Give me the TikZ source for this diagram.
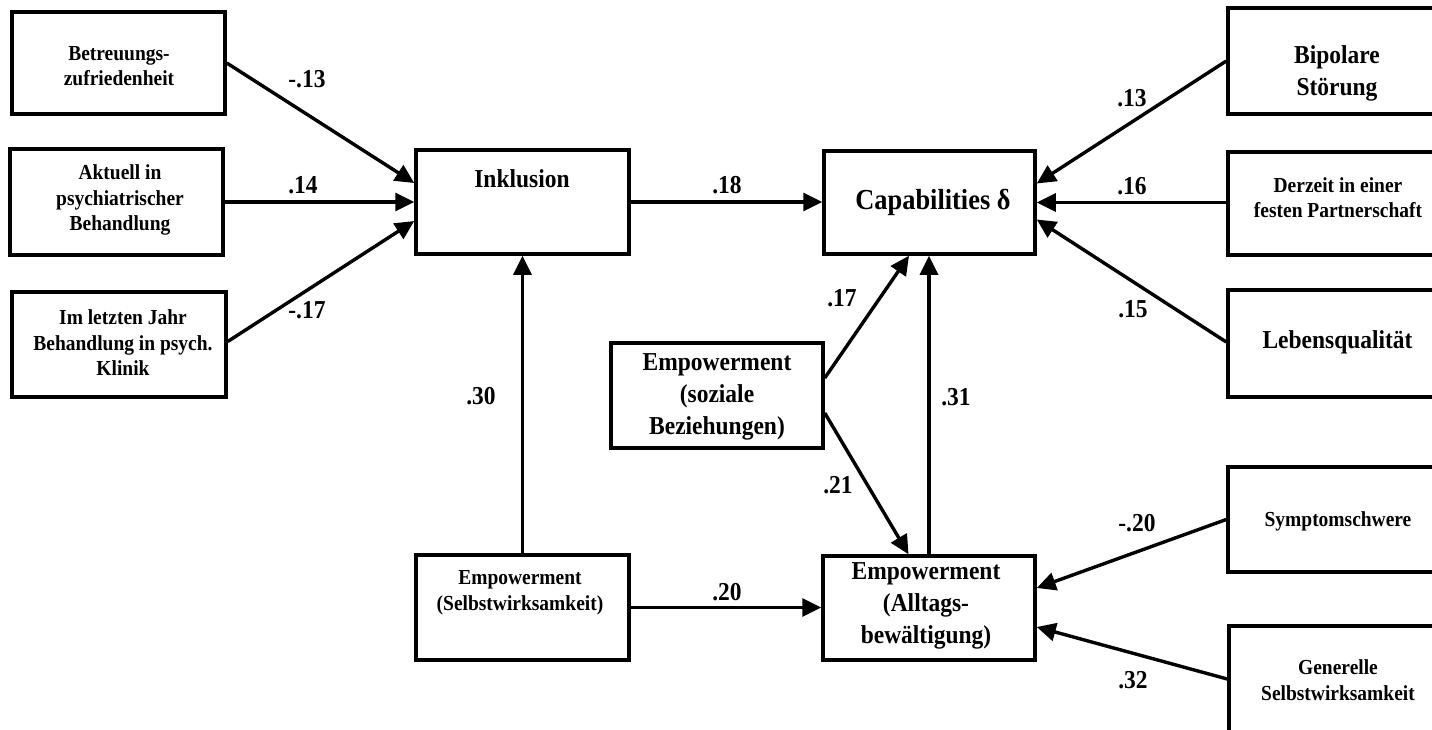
\documentclass[tikz,border=0pt]{standalone}
\usepackage{fontspec}
\setmainfont{Liberation Serif}
\newfontfamily\cf[FakeStretch=0.91]{Liberation Serif}
\usetikzlibrary{arrows.meta}
\tikzset{
  box/.style={draw, line width=3.5pt, inner sep=0pt},
  small/.style={font=\cf\fontsize{21.4}{25.5}\selectfont\bfseries, align=center, inner sep=0pt},
  big/.style={font=\cf\fontsize{25.8}{32}\selectfont\bfseries, align=center, inner sep=0pt},
  huge/.style={font=\cf\fontsize{29}{32}\selectfont\bfseries, align=center, inner sep=0pt},
  coef/.style={font=\cf\fontsize{25.8}{28}\selectfont\bfseries, inner sep=0pt},
  arr/.style={line width=3.4pt, -{Triangle[length=19pt,width=18pt]}},
}
\begin{document}
\begin{tikzpicture}[x=1pt, y=-1pt]
\useasboundingbox (0,0) rectangle (1432,730);
\clip (0,0) rectangle (1432,730);
\fill[white] (0,0) rectangle (1432,730);

% boxes
\node[box, minimum width=213pt, minimum height=102pt] (betr) at (118.5,63) {};
\node[box, minimum width=213pt, minimum height=106pt] (aktu) at (116.5,202) {};
\node[box, minimum width=214pt, minimum height=105pt] (letzt) at (119,344.5) {};
\node[box, minimum width=213pt, minimum height=104pt] (inkl) at (522.5,202) {};
\node[box, minimum width=211pt, minimum height=103pt] (capa) at (929.5,202.5) {};
\node[box, minimum width=217pt, minimum height=106pt] (bipo) at (1336.5,61) {};
\node[box, minimum width=217pt, minimum height=103pt] (derz) at (1336.5,203.5) {};
\node[box, minimum width=217pt, minimum height=107pt] (lebe) at (1336.5,343.5) {};
\node[box, minimum width=212pt, minimum height=105pt] (emps) at (717,395.5) {};
\node[box, minimum width=213pt, minimum height=105pt] (selb) at (522.5,607.5) {};
\node[box, minimum width=212pt, minimum height=104pt] (allt) at (929,608) {};
\node[box, minimum width=217pt, minimum height=105pt] (symp) at (1336.5,519.5) {};
\node[box, minimum width=216pt, minimum height=114pt] (gene) at (1337,683) {};

% box texts
\node[small] (betr-t) at (119,66) {Betreuungs-\\zufriedenheit};
\node[small] (aktu-t) at (120,200) {Aktuell in\\psychiatrischer\\Behandlung};
\node[small] (letzt-t) at (123,343) {Im letzten Jahr\\Behandlung in psych.\\Klinik};
\node[big] (inkl-t) at (522,179) {Inklusion};
\node[huge] (capa-t) at (933,202) {Capabilities δ};
\node[big] (bipo-t) at (1337,73) {Bipolare\\Störung};
\node[small] (derz-t) at (1338,197.5) {Derzeit in einer\\festen Partnerschaft};
\node[big] (lebe-t) at (1337.5,342) {Lebensqualität};
\node[big] (emps-t) at (717,397) {Empowerment\\(soziale\\Beziehungen)};
\node[small] (selb-t) at (520,593) {Empowerment\\(Selbstwirksamkeit)};
\node[big] (allt-t) at (926,605.5) {Empowerment\\(Alltags-\\bewältigung)};
\node[small] (symp-t) at (1338,521.5) {Symptomschwere};
\node[small] (gene-t) at (1338,680) {Generelle\\Selbstwirksamkeit};

% connectors
\draw[arr] (betr.east) -- ([yshift=19pt]inkl.west);
\draw[arr] (aktu.east) -- (inkl.west);
\draw[arr] ([yshift=3pt]letzt.east) -- ([yshift=-19pt]inkl.west);
\draw[arr] (inkl.east) -- (inkl.east -| capa.west);
\draw[arr] (bipo.west) -- ([yshift=19pt]capa.east);
\draw[arr] (capa.east -| derz.west) -- (capa.east);
\draw[arr] ([yshift=1.5pt]lebe.west) -- ([yshift=-17pt]capa.east);
\draw[arr] ([yshift=17.5pt]emps.east) -- ([xshift=-20.5pt]capa.south);
\draw[arr] ([yshift=-17.5pt]emps.east) -- ([xshift=-20.5pt]allt.north);
\draw[arr] (allt.north) -- (allt.north |- capa.south);
\draw[arr] (selb.north) -- (inkl.south);
\draw[arr] (selb.east) -- (selb.east -| allt.west);
\draw[arr] (symp.west) -- ([yshift=20pt]allt.east);
\draw[arr] ([yshift=4pt]gene.west) -- ([yshift=-19pt]allt.east);

% coefficients
\node[coef] (c1) at (307,79) {-.13};
\node[coef] (c2) at (303,185) {.14};
\node[coef] (c3) at (307,310) {-.17};
\node[coef] (c4) at (727,185) {.18};
\node[coef] (c5) at (1132,98) {.13};
\node[coef] (c6) at (1132,186) {.16};
\node[coef] (c7) at (1133,309) {.15};
\node[coef] (c8) at (842,298) {.17};
\node[coef] (c9) at (481,396) {.30};
\node[coef] (c10) at (956,397) {.31};
\node[coef] (c11) at (838,485) {.21};
\node[coef] (c12) at (727,592) {.20};
\node[coef] (c13) at (1137,523) {-.20};
\node[coef] (c14) at (1133,680) {.32};
\end{tikzpicture}
\end{document}
